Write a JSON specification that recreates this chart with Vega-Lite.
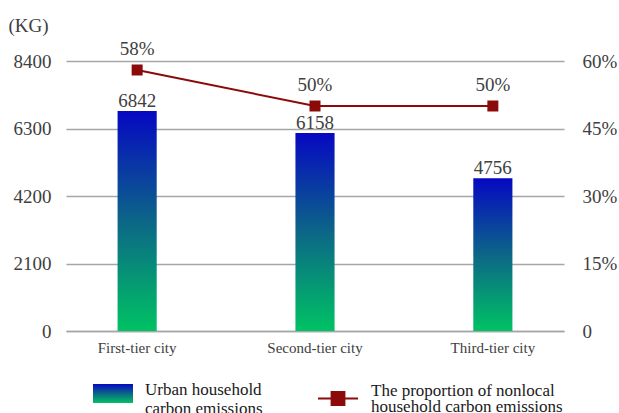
{
  "$schema": "https://vega.github.io/schema/vega-lite/v6.json",
  "width": 498,
  "height": 270,
  "autosize": {"type": "none"},
  "padding": {"left": 66, "top": 61, "right": 55, "bottom": 82},
  "background": "white",
  "config": {
    "font": "Liberation Serif",
    "view": {"stroke": null},
    "axis": {"labelFont": "Liberation Serif", "titleFont": "Liberation Serif", "labelColor": "#404040", "titleColor": "#404040"},
    "legend": {"labelFont": "Liberation Serif", "labelFontSize": 17, "labelColor": "#1a1a1a", "labelLimit": 400}
  },
  "data": {
    "values": [
      {"city": "First-tier city", "emissions": 6842, "share": 0.58},
      {"city": "Second-tier city", "emissions": 6158, "share": 0.50},
      {"city": "Third-tier city", "emissions": 4756, "share": 0.50}
    ]
  },
  "encoding": {
    "x": {
      "field": "city", "type": "nominal", "sort": null,
      "scale": {"paddingInner": 0.78, "paddingOuter": 0.29},
      "axis": {"title": null, "labelAngle": 0, "labelFontSize": 15, "labelPadding": 9, "ticks": false, "domainColor": "#A6A6A6", "domainWidth": 1.5}
    }
  },
  "layer": [
    {
      "layer": [
        {
          "mark": {"type": "bar", "strokeWidth": 0, "fill": {"gradient": "linear", "x1": 0, "y1": 0, "x2": 0, "y2": 1, "stops": [{"offset": 0, "color": "#0608C2"}, {"offset": 0.5, "color": "#0C6687"}, {"offset": 1, "color": "#00C264"}]}},
          "encoding": {
            "y": {
              "field": "emissions", "type": "quantitative",
              "scale": {"domain": [0, 8400], "nice": false},
              "axis": {"values": [0, 2100, 4200, 6300, 8400], "format": "d", "title": "(KG)", "titleAngle": 0, "titleAlign": "left", "titleBaseline": "middle", "titleX": -58, "titleY": -36, "titleFontSize": 19, "titleFontWeight": "normal", "labelFontSize": 19, "labelPadding": 15, "ticks": false, "domain": false, "gridColor": "#A6A6A6", "gridWidth": 1.5}
            },
            "stroke": {
              "datum": "Urban household carbon emissions",
              "scale": {"range": ["transparent"]},
              "legend": {"title": null, "orient": "none", "legendX": 27, "legendY": 308.5, "symbolType": "M-1,-0.275H1V0.675H-1Z", "symbolSize": 1600, "symbolStrokeWidth": 0, "labelOffset": 12, "labelExpr": "['Urban household', 'carbon emissions']",
                "encode": {
                  "labels": {"update": {"lineHeight": {"value": 16}}},
                  "symbols": {"update": {"fill": {"value": {"gradient": "linear", "x1": 0, "y1": 0, "x2": 0, "y2": 1, "stops": [{"offset": 0, "color": "#0608C2"}, {"offset": 0.5, "color": "#0C6687"}, {"offset": 1, "color": "#00C264"}]}}, "fillOpacity": {"value": 1}, "strokeWidth": {"value": 0}}}
                }
              }
            }
          }
        },
        {
          "mark": {"type": "text", "baseline": "alphabetic", "dy": -4, "fontSize": 19, "color": "#404040"},
          "encoding": {
            "y": {"field": "emissions", "type": "quantitative"},
            "text": {"field": "emissions", "type": "quantitative", "format": "d"}
          }
        }
      ]
    },
    {
      "layer": [
        {
          "mark": {"type": "line", "strokeWidth": 2},
          "encoding": {
            "y": {
              "field": "share", "type": "quantitative",
              "scale": {"domain": [0, 0.6], "nice": false},
              "axis": {"orient": "right", "values": [0, 0.15, 0.3, 0.45, 0.6], "labelExpr": "datum.value == 0 ? '0' : format(datum.value, '.0%')", "title": null, "labelFontSize": 19, "labelPadding": 18, "ticks": false, "domain": false, "grid": false}
            },
            "color": {
              "datum": "The proportion of nonlocal household carbon emissions",
              "scale": {"range": ["#8B0A0A"]},
              "legend": {"title": null, "orient": "none", "legendX": 251, "legendY": 316.5, "symbolType": "M-1,0H1M-0.32,-0.32H0.32V0.32H-0.32Z", "symbolSize": 1600, "symbolStrokeWidth": 2, "symbolFillColor": "#8B0A0A", "labelOffset": 12, "labelExpr": "['The proportion of nonlocal', 'household carbon emissions']",
                "encode": {"labels": {"update": {"dy": {"value": -8}, "lineHeight": {"value": 16}}}}
              }
            }
          }
        },
        {
          "mark": {"type": "point", "shape": "square", "filled": true, "size": 121, "color": "#8B0A0A", "opacity": 1},
          "encoding": {
            "y": {"field": "share", "type": "quantitative"}
          }
        },
        {
          "mark": {"type": "text", "baseline": "alphabetic", "dy": -15, "fontSize": 19, "color": "#404040"},
          "encoding": {
            "y": {"field": "share", "type": "quantitative"},
            "text": {"field": "share", "type": "quantitative", "format": ".0%"}
          }
        }
      ]
    }
  ],
  "resolve": {"scale": {"y": "independent"}}
}
